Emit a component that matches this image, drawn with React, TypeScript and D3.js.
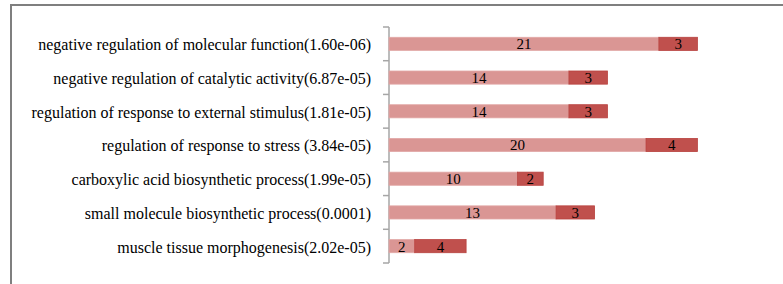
import React from 'react';
import * as d3 from 'd3';

// GO terms, top to bottom
const terms = [
  'negative regulation of molecular function(1.60e-06)',
  'negative regulation of catalytic activity(6.87e-05)',
  'regulation of response to external stimulus(1.81e-05)',
  'regulation of response to stress (3.84e-05)',
  'carboxylic acid biosynthetic process(1.99e-05)',
  'small molecule biosynthetic process(0.0001)',
  'muscle tissue morphogenesis(2.02e-05)',
];
const firstCounts = [21, 14, 14, 20, 10, 13, 2];
const secondCounts = [3, 3, 3, 4, 2, 3, 4];

const W = 783;
const H = 284;
const axisX = 389;

const App = () => {
  const y = d3.scaleBand<string>().domain(terms).range([27, 263]).paddingInner(0.61).paddingOuter(0.305);
  const band = d3.scaleBand<string>().domain(terms).range([27, 263]);
  const x = d3.scaleLinear().domain([0, 30]).range([axisX, axisX + 385.5]);

  const rows = terms.map((t, i) => ({ term: t, a: firstCounts[i], b: secondCounts[i] }));
  const stack = d3.stack<any>().keys(['a', 'b'])(rows);
  const fills = ['#DA9694', '#C0504D'];
  const strokes = ['#E2A9A7', '#B8423F'];
  const ticks = terms.map((t) => band(t)!).concat([263]);

  return (
    <svg width={W} height={H} style={{ position: 'absolute', left: 0, top: 0, background: '#fff' }}
      fontFamily="'Liberation Serif', 'Times New Roman', serif">
      {/* frame */}
      <path d={`M11,${H + 2} V5 H${W + 2}`} fill="none" stroke="#7f7f7f" strokeWidth={2} />
      {/* axis */}
      <line x1={axisX} x2={axisX} y1={27} y2={263} stroke="#a6a6a6" strokeWidth={1.5} />
      {ticks.map((ty, i) => (
        <line key={i} x1={axisX - 6} x2={axisX} y1={ty} y2={ty} stroke="#a6a6a6" strokeWidth={1.5} />
      ))}
      {stack.map((layer, li) =>
        layer.map((d, i) => (
          <g key={`${li}-${i}`}>
            <rect x={x(d[0])} y={y(terms[i])!} width={x(d[1]) - x(d[0])} height={y.bandwidth()}
              fill={fills[li]} stroke={strokes[li]} strokeWidth={0.8} />
            <text x={(x(d[0]) + x(d[1])) / 2} y={y(terms[i])! + y.bandwidth() / 2} dy="0.36em"
              textAnchor="middle" fontSize={15} fill="#000">
              {d[1] - d[0]}
            </text>
          </g>
        ))
      )}
      {terms.map((t) => (
        <text key={t} x={371} y={band(t)! + band.bandwidth() / 2} dy="0.4em" textAnchor="end"
          fontSize={16} fill="#000">
          {t}
        </text>
      ))}
    </svg>
  );
};

export default App;
